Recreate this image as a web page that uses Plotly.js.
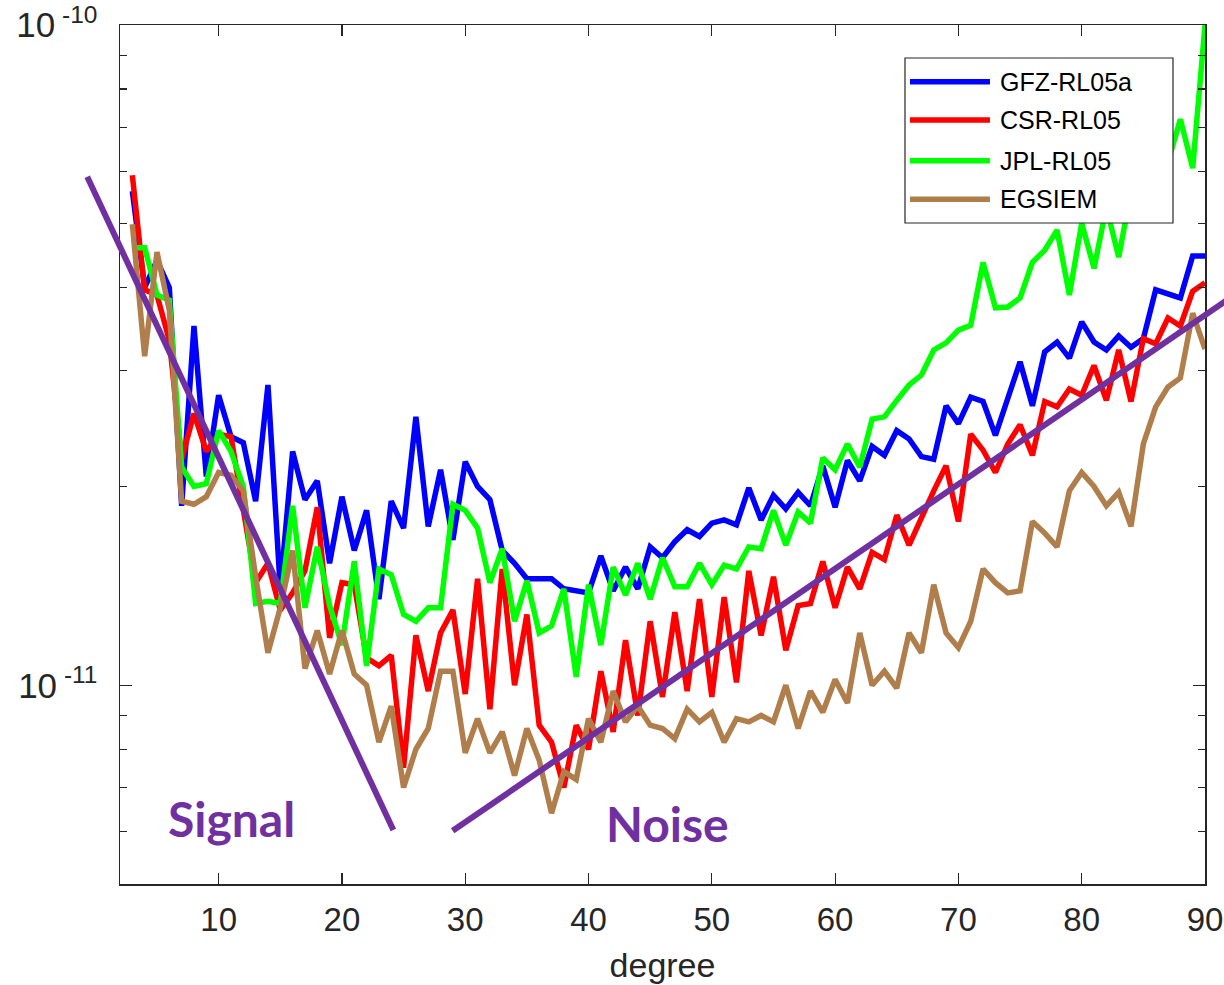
<!DOCTYPE html>
<html><head><meta charset="utf-8">
<script src="https://cdn.plot.ly/plotly-3.0.1.min.js"></script>
<style>html,body{margin:0;padding:0;background:#fff}</style>
</head><body>
<div id="chart" style="width:1224px;height:985px"></div>
<script>
// spherical harmonic degree
const degrees = [3,4,5,6,7,8,9,10,11,12,13,14,15,16,17,18,19,20,21,22,23,24,25,26,27,28,29,30,
  31,32,33,34,35,36,37,38,39,40,41,42,43,44,45,46,47,48,49,50,51,52,53,54,55,56,57,58,59,60,
  61,62,63,64,65,66,67,68,69,70,71,72,73,74,75,76,77,78,79,80,81,82,83,84,85,86,87,88,89,90];

const seriesNames  = ['GFZ-RL05a', 'CSR-RL05', 'JPL-RL05', 'EGSIEM'];
const seriesColors = ['#0000FF', '#FF0000', '#00FF00', '#B07E4B'];

const gfz = [5.6e-11,4.0e-11,4.4e-11,4.0e-11,1.87e-11,3.5e-11,2.07e-11,2.75e-11,2.38e-11,2.33e-11,
  1.9e-11,2.85e-11,1.4e-11,2.26e-11,1.91e-11,2.04e-11,1.53e-11,1.93e-11,1.6e-11,1.84e-11,
  1.35e-11,1.9e-11,1.73e-11,2.55e-11,1.74e-11,2.12e-11,1.66e-11,2.18e-11,2.0e-11,1.91e-11,
  1.6e-11,1.53e-11,1.45e-11,1.45e-11,1.45e-11,1.4e-11,1.39e-11,1.38e-11,1.57e-11,1.39e-11,
  1.51e-11,1.4e-11,1.62e-11,1.56e-11,1.65e-11,1.72e-11,1.68e-11,1.76e-11,1.78e-11,1.75e-11,
  1.99e-11,1.78e-11,1.94e-11,1.85e-11,1.96e-11,1.87e-11,2.15e-11,1.86e-11,2.19e-11,2.04e-11,
  2.3e-11,2.23e-11,2.43e-11,2.36e-11,2.22e-11,2.2e-11,2.65e-11,2.49e-11,2.73e-11,2.69e-11,
  2.39e-11,2.7e-11,3.09e-11,2.65e-11,3.2e-11,3.31e-11,3.13e-11,3.55e-11,3.31e-11,3.22e-11,
  3.38e-11,3.25e-11,3.35e-11,3.97e-11,3.92e-11,3.86e-11,4.47e-11,4.47e-11];

const csr = [5.92e-11,3.97e-11,3.9e-11,3.33e-11,2.2e-11,2.58e-11,2.26e-11,2.4e-11,2.38e-11,1.82e-11,
  1.43e-11,1.53e-11,1.3e-11,1.38e-11,1.49e-11,1.86e-11,1.18e-11,1.43e-11,1.42e-11,1.1e-11,
  1.07e-11,1.11e-11,0.75e-11,1.19e-11,0.98e-11,1.2e-11,1.3e-11,0.97e-11,1.45e-11,0.92e-11,
  1.5e-11,1.0e-11,1.28e-11,0.87e-11,0.82e-11,0.7e-11,0.87e-11,0.8e-11,1.05e-11,0.85e-11,
  1.17e-11,0.9e-11,1.25e-11,0.96e-11,1.29e-11,0.98e-11,1.35e-11,0.96e-11,1.36e-11,1.01e-11,
  1.49e-11,1.19e-11,1.46e-11,1.13e-11,1.32e-11,1.33e-11,1.54e-11,1.31e-11,1.51e-11,1.4e-11,
  1.59e-11,1.55e-11,1.81e-11,1.63e-11,1.8e-11,1.97e-11,2.15e-11,1.77e-11,2.4e-11,2.27e-11,
  2.1e-11,2.32e-11,2.48e-11,2.23e-11,2.69e-11,2.64e-11,2.81e-11,2.75e-11,3.05e-11,2.7e-11,
  3.22e-11,2.69e-11,3.35e-11,3.29e-11,3.6e-11,3.5e-11,3.95e-11,4.07e-11];

const jpl = [4.6e-11,4.6e-11,3.9e-11,3.83e-11,2.14e-11,2.0e-11,2.02e-11,2.43e-11,2.26e-11,2.0e-11,
  1.33e-11,1.34e-11,1.33e-11,1.87e-11,1.31e-11,1.62e-11,1.32e-11,1.15e-11,1.54e-11,1.07e-11,
  1.5e-11,1.47e-11,1.28e-11,1.25e-11,1.31e-11,1.31e-11,1.88e-11,1.84e-11,1.73e-11,1.43e-11,
  1.61e-11,1.25e-11,1.44e-11,1.2e-11,1.23e-11,1.4e-11,1.03e-11,1.42e-11,1.15e-11,1.51e-11,
  1.37e-11,1.53e-11,1.35e-11,1.56e-11,1.41e-11,1.41e-11,1.53e-11,1.42e-11,1.52e-11,1.5e-11,
  1.62e-11,1.61e-11,1.84e-11,1.63e-11,1.83e-11,1.76e-11,2.21e-11,2.12e-11,2.32e-11,2.14e-11,
  2.53e-11,2.55e-11,2.7e-11,2.85e-11,2.95e-11,3.22e-11,3.3e-11,3.45e-11,3.51e-11,4.37e-11,
  3.73e-11,3.74e-11,3.86e-11,4.37e-11,4.56e-11,4.89e-11,3.9e-11,5.01e-11,4.28e-11,5.3e-11,
  4.45e-11,5.6e-11,6.0e-11,6.5e-11,6.2e-11,7.2e-11,6.07e-11,10.0e-11];

const egsiem = [4.99e-11,3.15e-11,4.53e-11,3.7e-11,1.9e-11,1.88e-11,1.93e-11,2.1e-11,2.08e-11,1.97e-11,
  1.46e-11,1.12e-11,1.31e-11,1.6e-11,1.06e-11,1.21e-11,1.04e-11,1.21e-11,1.04e-11,1.0e-11,
  0.82e-11,0.93e-11,0.7e-11,0.8e-11,0.86e-11,1.05e-11,1.05e-11,0.79e-11,0.89e-11,0.79e-11,
  0.85e-11,0.73e-11,0.86e-11,0.77e-11,0.64e-11,0.74e-11,0.72e-11,0.89e-11,0.82e-11,0.98e-11,
  0.88e-11,0.93e-11,0.87e-11,0.86e-11,0.83e-11,0.92e-11,0.88e-11,0.91e-11,0.82e-11,0.89e-11,
  0.88e-11,0.9e-11,0.88e-11,1.0e-11,0.86e-11,0.98e-11,0.91e-11,1.02e-11,0.94e-11,1.2e-11,
  1.0e-11,1.05e-11,0.99e-11,1.2e-11,1.12e-11,1.42e-11,1.2e-11,1.14e-11,1.25e-11,1.5e-11,
  1.43e-11,1.38e-11,1.39e-11,1.77e-11,1.7e-11,1.62e-11,1.97e-11,2.1e-11,2.0e-11,1.87e-11,
  1.96e-11,1.74e-11,2.32e-11,2.64e-11,2.83e-11,2.92e-11,3.66e-11,3.23e-11];

const xTickVals = [10,20,30,40,50,60,70,80,90];
const yTickVals = [1e-11, 1e-10];
const yTickText = ['10<sup> -11</sup>', '10<sup> -10</sup>'];
const yMinorVals = [5e-12,6e-12,7e-12,8e-12,9e-12,2e-11,3e-11,4e-11,5e-11,6e-11,7e-11,8e-11,9e-11];
const xLabel = 'degree';
const trendLabels = ['Signal', 'Noise'];

const seriesData = [gfz, csr, jpl, egsiem];
const traces = seriesData.map((ys, i) => ({
  x: degrees, y: ys, type: 'scatter', mode: 'lines', name: seriesNames[i],
  line: {color: seriesColors[i], width: 5.5}, showlegend: false
}));

const purple = '#7030A0';
const axisColor = '#262626';
const fontFam = 'Liberation Sans, Arial, sans-serif';

// manual legend (box, sample lines, labels) in paper coordinates
const legRows = [0.934, 0.8894, 0.842, 0.7971];
const shapes = [
  {type:'rect', xref:'paper', yref:'paper', x0:0.7235, x1:0.9705, y0:0.7695, y1:0.9616,
   fillcolor:'#ffffff', line:{color:axisColor, width:1.2}, layer:'above'}
];
const annotations = [];
seriesNames.forEach((n, i) => {
  shapes.push({type:'line', xref:'paper', yref:'paper', x0:0.7281, x1:0.8018,
    y0:legRows[i], y1:legRows[i], line:{color:seriesColors[i], width:5.5}, layer:'above'});
  annotations.push({xref:'paper', yref:'paper', x:0.809, y:legRows[i], xanchor:'left', yanchor:'middle',
    text:n, showarrow:false, font:{family:fontFam, size:25, color:'#000'}});
});
// signal / noise trend lines
shapes.push({type:'line', xref:'paper', yref:'paper', x0:-0.0302, y0:0.8234, x1:0.2519, y1:0.0629,
  line:{color:purple, width:6}, layer:'above'});
shapes.push({type:'line', xref:'paper', yref:'paper', x0:0.3066, y0:0.0619, x1:1.023, y1:0.6822,
  line:{color:purple, width:6}, layer:'above'});
annotations.push({xref:'paper', yref:'paper', x:0.1032, y:0.0768, text:trendLabels[0], showarrow:false,
  xanchor:'center', yanchor:'middle', font:{family:'Lato', size:48, color:purple, weight:'bold'}});
annotations.push({xref:'paper', yref:'paper', x:0.505, y:0.071, text:trendLabels[1], showarrow:false,
  xanchor:'center', yanchor:'middle', font:{family:'Lato', size:48, color:purple, weight:'bold'}});

const layout = {
  width: 1224, height: 985,
  margin: {l:120, r:19, t:25, b:101},
  paper_bgcolor:'#ffffff', plot_bgcolor:'#ffffff',
  showlegend:false,
  font:{family:fontFam, color:axisColor},
  xaxis: {
    range:[2, 90], tickmode:'array', tickvals:xTickVals,
    ticks:'inside', ticklen:11, tickwidth:1.2, tickcolor:axisColor,
    showline:true, linecolor:axisColor, linewidth:1.5, mirror:'ticks',
    showgrid:false, zeroline:false, ticklabelstandoff:6,
    tickfont:{size:33, color:axisColor},
    title:{text:xLabel, font:{size:34, color:axisColor}, standoff:16}
  },
  yaxis: {
    type:'log', range:[Math.log10(5e-12), -10],
    tickmode:'array', tickvals:yTickVals, ticktext:yTickText,
    ticks:'inside', ticklen:12, tickwidth:1.2, tickcolor:axisColor,
    minor:{tickmode:'array', tickvals:yMinorVals, ticks:'inside', ticklen:7, tickwidth:1.2, tickcolor:axisColor, showgrid:false},
    showline:true, linecolor:axisColor, linewidth:1.5, mirror:'ticks',
    showgrid:false, zeroline:false, ticklabelstandoff:14,
    tickfont:{size:35, color:axisColor}
  },
  shapes: shapes,
  annotations: annotations
};

Plotly.newPlot('chart', traces, layout, {displayModeBar:false, staticPlot:true});
</script>
</body></html>
